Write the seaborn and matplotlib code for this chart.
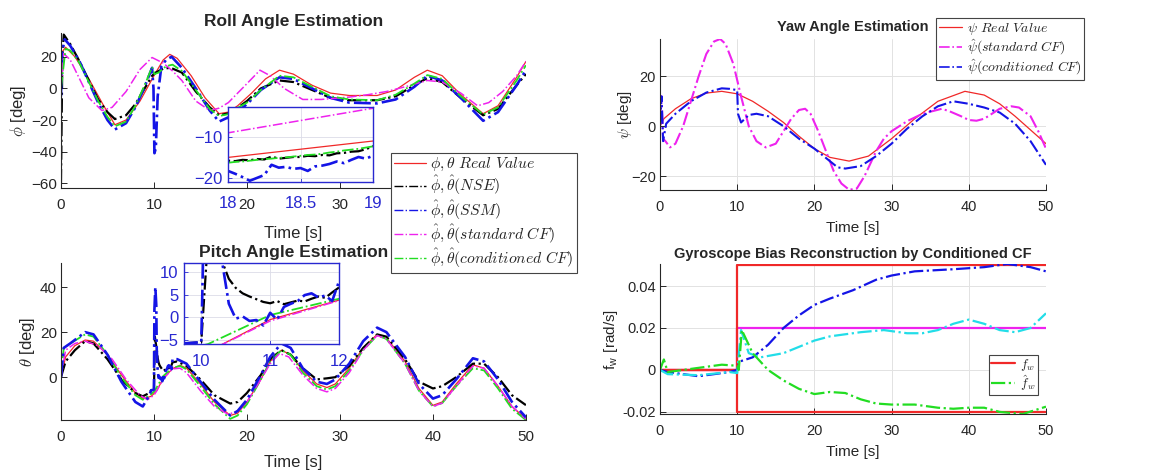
import numpy as np
import matplotlib
matplotlib.use('Agg')
import matplotlib.pyplot as plt
import seaborn as sns
from matplotlib.lines import Line2D

# ─────────────────────────────────────────
# DATA
# ─────────────────────────────────────────
# Roll (phi) — main traces, the 18–19 s window comes from the zoom arrays
roll_real_t = [0, 0.5, 1.5, 3, 4.5, 5.8, 7, 8.5, 10, 11, 11.7, 12.5, 14, 15.5, 17, 18, 19,
               20.5, 22, 23.5, 25, 27, 29, 31, 34, 36, 38, 39.4, 41, 43, 45.4, 47, 49, 50]
roll_real = [22, 26, 20, 6, -10, -23, -20, -8, 8, 18, 21.5, 19, 8, -6, -16, -15, -11,
             -3, 6, 11.5, 9, 2, -3, -4.5, -4.5, -1, 7, 11.5, 8, -4, -16, -11, 7, 17]

roll_nse_t = [0, 0.15, 0.3, 1, 2, 3, 4, 5, 5.8, 7, 8, 9, 9.8, 10.2, 11, 11.8, 13, 14.5, 16, 17,
              20, 21.5, 23.5, 25, 27, 29, 31, 34, 36, 38, 39.4, 41, 43, 45.4, 47, 49, 50]
roll_nse = [-60, 20, 34, 28, 17, 5, -7, -15, -19.4, -17, -10, 0, 8, 10, 12.5, 13, 10, -2, -12, -17,
            -8, 0, 5, 4, -1, -6, -7.5, -7.5, -5, 2, 6.5, 4, -6, -17, -13, 2, 9]

roll_ssm_t = [0, 0.1, 0.4, 1, 2, 3, 4, 5, 5.8, 7, 8, 9, 9.8, 9.95, 10.05, 10.2, 10.4, 10.8, 11.3,
              11.9, 13, 14.5, 16, 17,
              20, 21.5, 23.5, 25, 27, 29, 31, 34, 36, 38, 39.4, 41, 43, 45.4, 47, 49, 50]
roll_ssm = [-5, 22, 31, 27, 17, 4, -9, -20, -26, -22, -12, 1, 13, 0, -41, -38, -5, 14, 18,
            20, 13, 0, -14, -21,
            -10, -1, 7, 6, 0, -6, -9, -9.5, -7, 1, 8, 5, -6, -20.5, -15, 2, 11.5]

roll_cond_t = [0, 0.5, 1, 2, 3, 4, 5, 5.8, 7, 8, 9, 9.8, 10.05, 10.5, 11.3, 12, 13, 14.5, 16, 17,
               20, 21.5, 23.5, 25, 27, 29, 31, 34, 36, 38, 39.4, 41, 43, 45.4, 47, 49, 50]
roll_cond = [0, 25, 24, 16, 4, -8, -18, -24, -21, -11, 2, 13.5, 9, 10, 14, 15, 11, -1, -13, -17.5,
             -9, -1, 8, 7, 1, -5, -7, -7.5, -4, 3, 8.4, 6, -5, -16.5, -12, 5, 14.6]

roll_std_t = [0, 0.3, 1, 2, 3, 4.4, 5.5, 7, 8.5, 9.8, 11, 12, 13, 14.5, 16, 17, 18, 19, 20,
              21.4, 22.5, 24, 26, 28, 31, 33, 35, 37, 39.4, 41, 43, 44.8, 46, 47.5, 49, 50]
roll_std = [0, 22, 18, 6, -6, -14, -12, -2, 12, 19.5, 16, 11, 5, -8, -14, -12.5, -9, -3, 3,
            11.5, 8, 0, -7, -7, -5.5, -4, -2, 1, 5, 4, -3, -11, -9, -2, 8, 17]

# Roll zoom window 18–19 s
roll_zoom_t = [18.0, 18.05, 18.1, 18.15, 18.2, 18.25, 18.3, 18.35, 18.4, 18.45, 18.5,
               18.55, 18.6, 18.65, 18.7, 18.75, 18.8, 18.85, 18.9, 18.95, 19.0]
roll_zoom_nse = [-15.8, -15.9, -15.6, -15.7, -15.4, -15.5, -14.8, -15.3, -15.1, -14.9, -14.9,
                 -14.6, -14.7, -14.4, -14.5, -14.0, -13.9, -13.6, -13.5, -13.0, -12.3]
roll_zoom_ssm = [-18.3, -19.0, -19.8, -20.7, -20.0, -19.3, -16.8, -17.5, -17.3, -17.8, -17.6,
                 -18.3, -17.2, -17.0, -16.6, -16.0, -16.4, -15.6, -14.9, -15.3, -14.6]
roll_zoom_cond = [-16.3, -16.1, -16.0, -15.8, -15.6, -15.4, -15.3, -15.1, -15.0, -14.8, -14.6,
                  -14.4, -14.3, -14.1, -13.8, -13.6, -13.3, -13.1, -12.9, -12.6, -12.3]

# Pitch (theta)
pitch_real_t = [0, 0.5, 1.5, 2.6, 3.5, 5, 6.5, 8, 8.8, 9.7, 10.3, 11, 12, 12.8, 13.5, 15, 16.5,
                18.2, 19, 20, 21.5, 22.5, 23.7, 24.7, 26, 27.5, 28.6, 29.5, 31, 32.5, 34, 35,
                37, 38.5, 40, 41, 42.5, 44.3, 45.5, 47, 48.5, 50]
pitch_real = [0, 9, 14, 16.5, 16, 10, 1, -7, -9.5, -8.5, -6, -0.5, 3.8, 5.3, 4, -3, -11,
              -17, -16, -11, -1, 7, 12, 10, 3, -3, -4.6, -3, 4, 13, 19, 17.5,
              7, -5, -12.5, -11, -3, 5.5, 4, -4, -13, -18.5]

pitch_nse_t = [0, 0.5, 1.5, 2.6, 3.5, 5, 6.5, 8, 8.8, 9.5, 9.7, 10.0, 10.1, 10.2,
               12.5, 13.5, 15, 16.5, 18.2, 19, 20, 21.5, 22.5, 23.7, 24.7, 26, 27.5, 28.6,
               29.5, 31, 32.5, 34, 35, 37, 38.5, 40, 41, 42.5, 44.3, 45.5, 47, 48.5, 50]
pitch_nse = [0, 7, 12, 16, 15, 8, -1, -7, -8.5, -7, -5.8, -5.5, 18, 15,
             7, 5, -1, -8, -11.7, -11, -7, 1, 8, 12, 10, 4, -1, -0.5,
             0, 5, 13, 19, 18, 8, -2, -5, -4, 0, 6, 6, 0, -8, -12.4]

pitch_ssm_t = [0, 0.3, 1, 2.6, 3.5, 5, 6.5, 8, 8.8, 9.5, 9.7, 10.0, 10.05, 10.15, 10.25,
               12.5, 13.5, 15, 16.5, 18.2, 19, 20, 21.5, 22.5, 23.7, 24.7, 26, 27.5, 28.6,
               29.5, 31, 32.5, 34, 35, 37, 38.5, 40, 41, 42.5, 44.3, 45.5, 47, 48.5, 50]
pitch_ssm = [0, 13, 15, 20, 19, 10, -2, -11, -13, -8, -5.8, -5.5, 30, 40, 32,
             8, 6, -2, -10, -17, -15, -10, 1, 9, 15, 13, 4, -2, -3,
             -1, 6, 16, 22, 20, 9, -3, -9.5, -8, -1, 8.4, 7, -1, -11, -17.8]

pitch_cond_t = [0, 0.3, 1, 2.6, 3.5, 5, 6.5, 8, 8.8, 9.7, 10.1, 11, 12, 12.8, 13.5, 15, 16.5,
                18.2, 19, 20, 21.5, 22.5, 23.7, 24.7, 26, 27.5, 28.6, 29.5, 31, 32.5, 34, 35,
                37, 38.5, 40, 41, 42.5, 44.3, 45.5, 47, 48.5, 50]
pitch_cond = [0, 13, 15, 19, 18, 10, 0, -8, -10, -7.5, -5.9, 0.5, 4.1, 5, 3.5, -4, -12,
              -18.5, -17, -12, -1, 7, 12, 10, 2, -4, -5.5, -4, 3, 12, 18.5, 17,
              6, -6, -13, -11.5, -4, 4, 3, -5, -14, -19]

pitch_std_t = [0, 0.5, 1.5, 2.6, 4, 5.5, 7, 8.5, 9.3, 10, 10.32, 11, 12, 12.8, 13.5, 15, 16.5,
               18, 19, 20, 21.5, 22.5, 23.5, 24.5, 26, 27.5, 28.6, 29.5, 31, 32.5, 34, 35,
               37, 38.5, 40, 41, 42.5, 44.3, 45.5, 47, 48.5, 50]
pitch_std = [0, 12, 15, 16, 14, 8, -1, -8, -10, -8, -5.9, -0.8, 3.7, 4, 2, -6, -13,
             -16.5, -15, -11, -1, 6, 10.5, 9, 1, -5, -6.5, -5, 2, 12, 18.5, 17,
             6, -6, -13, -11.5, -4, 5, 4, -4, -13, -18.5]

# Pitch zoom window 10.3–12 s
pitch_zoom_t = [10.3, 10.4, 10.5, 10.6, 10.7, 10.8, 10.9, 11.0, 11.1, 11.2, 11.3, 11.4,
                11.5, 11.6, 11.7, 11.8, 11.9, 12.0]
pitch_zoom_nse = [12.5, 8.5, 6.5, 5.3, 4.6, 4.0, 3.4, 3.1, 3.6, 2.9, 3.3, 3.7,
                  3.5, 4.1, 4.6, 4.3, 5.5, 6.6]
pitch_zoom_ssm = [12.5, 3.0, -0.3, 0.2, -0.8, -0.6, -1.8, 1.0, -0.5, 2.3, 3.0, 3.6,
                  4.9, 5.3, 4.4, 4.8, 3.6, 8.0]

# Yaw (psi)
yaw_real_t = [0, 0.5, 2, 4, 6, 8, 10, 12, 14, 16, 18, 20, 22, 24.5, 27, 30, 33, 36, 39.5,
              42, 44, 46, 48, 50]
yaw_real = [0, 3, 7, 11, 13.3, 14, 13, 10, 6, 1.5, -4, -9, -12.5, -14, -12, -5, 3, 10, 14,
            12.5, 9, 4, -1.5, -7]

yaw_std_t = [0, 0.2, 0.4, 0.7, 1.3, 2, 3, 4, 5, 6, 7, 7.8, 8.5, 9.5, 10.5, 11.5, 12.5, 13.7,
             15, 16, 17, 18, 18.8, 19.5, 20.5, 21.5, 22.5, 23.5, 24.5, 25.5, 26.5, 28, 29,
             30, 32, 34, 36.5, 37.5, 39, 40, 41, 42, 43, 44, 45.5, 46.5, 48, 49, 50]
yaw_std = [0, 12, -5, -6, -8.5, -7, 0, 10, 20, 29, 34, 35, 33, 25, 12, 0, -6, -8.5,
           -7, -2, 3, 6.5, 7, 5, -2, -10, -18, -23, -25.5, -25, -20, -10, -5,
           -2, 2, 5, 7, 6, 4, 2.5, 2.2, 3, 5, 7, 8, 7.5, 4, -2, -9]

yaw_cond_t = [0, 0.2, 0.4, 0.8, 2, 4, 6, 8, 9, 10, 10.1, 10.5, 11.5, 12.5, 14, 16, 18, 20,
              22, 23, 24, 26, 28, 30, 32, 34, 36, 38, 40, 42, 44, 46, 48, 50]
yaw_cond = [0, 12, -6, 1, 5, 10, 13.5, 15.2, 15, 14.5, 5, 1.5, 4.5, 5, 4, 0, -5, -9,
            -14, -16.5, -17, -16, -12, -7, -1, 4, 8, 10, 9, 7.5, 5.5, 1, -6, -15.5]

# Gyroscope bias
bias_step_t = [0, 10, 10, 50]
bias_true_x = [0, 0, 0.05, 0.05]
bias_true_y = [0, 0, 0.02, 0.02]
bias_true_z = [0, 0, -0.02, -0.02]

bias_est_x_t = [0, 1, 5, 9, 10, 10.3, 12, 14, 16, 18, 20, 22, 25, 28, 30, 33, 38, 42, 45, 48, 50]
bias_est_x = [0, -0.001, -0.003, -0.001, 0, 0.004, 0.006, 0.012, 0.02, 0.026, 0.031, 0.034,
              0.038, 0.043, 0.045, 0.047, 0.048, 0.049, 0.0505, 0.049, 0.047]

bias_est_y_t = [0, 1, 5, 9, 10, 10.5, 11.5, 13, 16, 18, 20, 22, 24, 26, 29, 32, 34, 36, 38,
                40, 42, 44, 46, 48, 50]
bias_est_y = [0, -0.002, -0.0025, -0.001, -0.0015, 0.019, 0.008, 0.006, 0.008, 0.011, 0.014,
              0.016, 0.017, 0.018, 0.019, 0.0175, 0.0175, 0.019, 0.022, 0.024, 0.022, 0.019,
              0.018, 0.02, 0.027]

bias_est_z_t = [0, 0.5, 1, 3, 6, 8, 10, 10.2, 10.6, 12, 14, 16, 18, 20, 22, 24, 26, 28, 30,
                33, 36, 38, 40, 42, 44, 47, 50]
bias_est_z = [0, 0.005, -0.001, 0, 0.0015, 0.0025, 0.002, 0.0, 0.019, 0.008, 0.0, -0.005,
              -0.009, -0.0115, -0.0105, -0.011, -0.014, -0.016, -0.0165, -0.0165, -0.018,
              -0.0185, -0.018, -0.018, -0.02, -0.021, -0.0175]

# ─────────────────────────────────────────
# STYLE
# ─────────────────────────────────────────
sns.set_style('ticks')
plt.rcParams['font.family'] = ['Liberation Sans', 'DejaVu Sans']
plt.rcParams['mathtext.fontset'] = 'cm'
plt.rcParams['xtick.direction'] = 'in'
plt.rcParams['ytick.direction'] = 'in'
plt.rcParams['axes.edgecolor'] = '#262626'
plt.rcParams['axes.linewidth'] = 0.8
plt.rcParams['axes.grid'] = False

RED, BLACK, BLUE, MAG, GREEN, CYAN = '#f02828', '#000000', '#1414e6', '#ee22ee', '#22dd22', '#22dde8'
INSET = '#2828d0'
GRAY = '#262626'


def trace(ax, t, v, color, ls='-.', lw=1.0, z=2):
    sns.lineplot(x=t, y=v, ax=ax, color=color, linestyle=ls, linewidth=lw,
                 estimator=None, sort=False, legend=False, zorder=z)


def merge(t1, v1, t2, v2):
    t = np.concatenate([t1, t2])
    v = np.concatenate([v1, v2])
    o = np.argsort(t, kind='stable')
    return t[o], v[o]


def style_main(ax, ylabel, fs=11, lfs=12, grid=False, labelpad=6, ylabelpad=2):
    ax.spines['top'].set_visible(False)
    ax.spines['right'].set_visible(False)
    ax.tick_params(axis='both', colors=GRAY, labelsize=fs, length=4, width=0.7)
    ax.tick_params(axis='x', pad=7)
    ax.tick_params(axis='y', pad=3)
    ax.set_xlim(0, 50)
    ax.set_xticks([0, 10, 20, 30, 40, 50])
    ax.set_xlabel('Time [s]', fontsize=lfs, color=GRAY, labelpad=labelpad)
    ax.set_ylabel(ylabel, fontsize=lfs, color=GRAY, labelpad=ylabelpad)
    if grid:
        ax.grid(True, color='#e2e2e2', linewidth=0.7)
        ax.set_axisbelow(True)
    else:
        ax.grid(False)


def style_inset(ax):
    for s in ax.spines.values():
        s.set_color(INSET)
        s.set_linewidth(1.0)
    ax.tick_params(axis='both', colors=INSET, labelsize=12, length=3, width=0.6)
    ax.tick_params(axis='y', pad=4)
    ax.grid(True, color='#dcdce8', linewidth=0.6)
    ax.set_axisbelow(True)
    ax.set_xlabel('')
    ax.set_ylabel('')


fig = plt.figure(figsize=(11.7, 4.71), dpi=100)

# ─────────────────────────────────────────
# ROLL
# ─────────────────────────────────────────
ax_roll = fig.add_axes([0.0521, 0.6008, 0.3974, 0.3291])
nse_t, nse_v = merge(roll_nse_t, roll_nse, roll_zoom_t, roll_zoom_nse)
ssm_t, ssm_v = merge(roll_ssm_t, roll_ssm, roll_zoom_t, roll_zoom_ssm)
cond_t, cond_v = merge(roll_cond_t, roll_cond, roll_zoom_t, roll_zoom_cond)
roll_series = [(roll_real_t, roll_real, RED, '-', 0.9),
               (nse_t, nse_v, BLACK, '-.', 1.6),
               (ssm_t, ssm_v, BLUE, '-.', 1.9),
               (roll_std_t, roll_std, MAG, '-.', 1.1),
               (cond_t, cond_v, GREEN, '-.', 1.3)]
for t, v, c, ls, lw in roll_series:
    trace(ax_roll, t, v, c, ls, lw)
style_main(ax_roll, r'$\phi$ [deg]', labelpad=10)
# 40 and 50 sit under the legend in the original, so only their tick marks show
ax_roll.set_xticklabels(['0', '10', '20', '30', '', ''])
ax_roll.set_ylim(-63, 35)
ax_roll.set_yticks([-60, -40, -20, 0, 20])
ax_roll.set_title('Roll Angle Estimation', fontsize=12.5, fontweight='bold', pad=5)

ax_ri = fig.add_axes([0.1949, 0.6136, 0.1239, 0.1592])
for t, v, c, ls, lw in roll_series:
    trace(ax_ri, t, v, c, ls, lw)
style_inset(ax_ri)
ax_ri.set_xlim(18, 19)
ax_ri.set_ylim(-21, -2.7)
ax_ri.set_xticks([18, 18.5, 19])
ax_ri.set_xticklabels(['18', '18.5', '19'])
ax_ri.set_yticks([-20, -10])
ax_ri.tick_params(axis='x', pad=10)

# ─────────────────────────────────────────
# PITCH
# ─────────────────────────────────────────
ax_pitch = fig.add_axes([0.0521, 0.1083, 0.3974, 0.3333])
pnse_t, pnse_v = merge(pitch_nse_t, pitch_nse, pitch_zoom_t, pitch_zoom_nse)
pssm_t, pssm_v = merge(pitch_ssm_t, pitch_ssm, pitch_zoom_t, pitch_zoom_ssm)
pitch_series = [(pitch_real_t, pitch_real, RED, '-', 0.9),
                (pnse_t, pnse_v, BLACK, '-.', 1.6),
                (pitch_cond_t, pitch_cond, GREEN, '-.', 1.3),
                (pitch_std_t, pitch_std, MAG, '-.', 1.1),
                (pssm_t, pssm_v, BLUE, '-.', 1.9)]
for t, v, c, ls, lw in pitch_series:
    trace(ax_pitch, t, v, c, ls, lw)
style_main(ax_pitch, r'$\theta$ [deg]', labelpad=8)
ax_pitch.set_ylim(-19, 50.7)
ax_pitch.set_yticks([0, 20, 40])
ax_pitch.set_title('Pitch Angle Estimation', fontsize=12.5, fontweight='bold', pad=4)

ax_pi = fig.add_axes([0.1573, 0.2696, 0.1325, 0.1720])
for t, v, c, ls, lw in pitch_series:
    trace(ax_pi, t, v, c, ls, lw)
style_inset(ax_pi)
ax_pi.set_xlim(9.75, 12)
ax_pi.set_ylim(-5.9, 12)
ax_pi.set_xticks([10, 11, 12])
ax_pi.set_yticks([-5, 0, 5, 10])
ax_pi.tick_params(axis='x', pad=7)

# roll/pitch shared legend
att_labels = [r'$\phi, \theta\ Real\ Value$',
              r'$\hat{\phi}, \hat{\theta}(NSE)$',
              r'$\hat{\phi}, \hat{\theta}(SSM)$',
              r'$\hat{\phi}, \hat{\theta}(standard\ CF)$',
              r'$\hat{\phi}, \hat{\theta}(conditioned\ CF)$']
att_handles = [Line2D([], [], color=RED, ls='-', lw=0.9),
               Line2D([], [], color=BLACK, ls='-.', lw=1.0),
               Line2D([], [], color=BLUE, ls='-.', lw=1.0),
               Line2D([], [], color=MAG, ls='-.', lw=1.0),
               Line2D([], [], color=GREEN, ls='-.', lw=1.0)]
leg = fig.legend(att_handles, att_labels, loc='upper left', bbox_to_anchor=(0.3342, 0.6752),
                 fontsize=11.3, handlelength=2.0, handletextpad=0.3, labelspacing=0.05,
                 borderpad=0.2, borderaxespad=0, fancybox=False, framealpha=1,
                 edgecolor='#444444')
leg.get_frame().set_linewidth(0.8)

# ─────────────────────────────────────────
# YAW
# ─────────────────────────────────────────
ax_yaw = fig.add_axes([0.5641, 0.5966, 0.3299, 0.3206])
trace(ax_yaw, yaw_real_t, yaw_real, RED, '-', 0.9)
trace(ax_yaw, yaw_std_t, yaw_std, MAG, '-.', 1.5)
trace(ax_yaw, yaw_cond_t, yaw_cond, BLUE, '-.', 1.5)
style_main(ax_yaw, r'$\psi$ [deg]', fs=10.5, lfs=11, grid=True, labelpad=5, ylabelpad=-2)
ax_yaw.set_ylim(-25.6, 35)
ax_yaw.set_yticks([-20, 0, 20])
ax_yaw.set_title('Yaw Angle Estimation', fontsize=10.5, fontweight='bold', pad=6)
yaw_handles = [Line2D([], [], color=RED, ls='-', lw=0.9),
               Line2D([], [], color=MAG, ls='-.', lw=1.2),
               Line2D([], [], color=BLUE, ls='-.', lw=1.2)]
yaw_labels = [r'$\psi\ Real\ Value$', r'$\hat{\psi}(standard\ CF)$',
              r'$\hat{\psi}(conditioned\ CF)$']
leg2 = fig.legend(yaw_handles, yaw_labels, loc='upper left', bbox_to_anchor=(0.8, 0.9618),
                  fontsize=10, handlelength=1.7, handletextpad=0.3, labelspacing=0.05,
                  borderpad=0.2, borderaxespad=0, fancybox=False, framealpha=1,
                  edgecolor='#444444')
leg2.get_frame().set_linewidth(0.8)

# ─────────────────────────────────────────
# GYRO BIAS
# ─────────────────────────────────────────
ax_bias = fig.add_axes([0.5641, 0.1210, 0.3299, 0.3185])
trace(ax_bias, bias_step_t, bias_true_y, MAG, '-', 1.6)
trace(ax_bias, bias_step_t, bias_true_x, RED, '-', 1.6)
trace(ax_bias, bias_step_t, bias_true_z, RED, '-', 1.6)
trace(ax_bias, bias_est_x_t, bias_est_x, BLUE, '-.', 1.6)
trace(ax_bias, bias_est_y_t, bias_est_y, CYAN, '-.', 1.6)
trace(ax_bias, bias_est_z_t, bias_est_z, GREEN, '-.', 1.6)
style_main(ax_bias, r'f$_\mathregular{w}$ [rad/s]', fs=10.5, lfs=11, grid=True, labelpad=5)
ax_bias.set_ylim(-0.021, 0.0505)
ax_bias.set_yticks([-0.02, 0, 0.02, 0.04])
ax_bias.set_yticklabels(['-0.02', '0', '0.02', '0.04'])
ax_bias.set_title('Gyroscope Bias Reconstruction by Conditioned CF', fontsize=10.5,
                  fontweight='bold', pad=4)
bias_handles = [Line2D([], [], color=RED, ls='-', lw=1.6),
                Line2D([], [], color=GREEN, ls='-.', lw=1.6)]
leg3 = ax_bias.legend(bias_handles, [r'$f_w$', r'$\hat{f}_w$'], loc='upper right',
                      bbox_to_anchor=(0.979, 0.393), fontsize=9.5, handlelength=1.8,
                      handletextpad=0.4, labelspacing=0.0, borderpad=0.15, borderaxespad=0,
                      fancybox=False, framealpha=1, edgecolor='#444444')
leg3.get_frame().set_linewidth(0.8)

plt.savefig('out.png', dpi=100)
